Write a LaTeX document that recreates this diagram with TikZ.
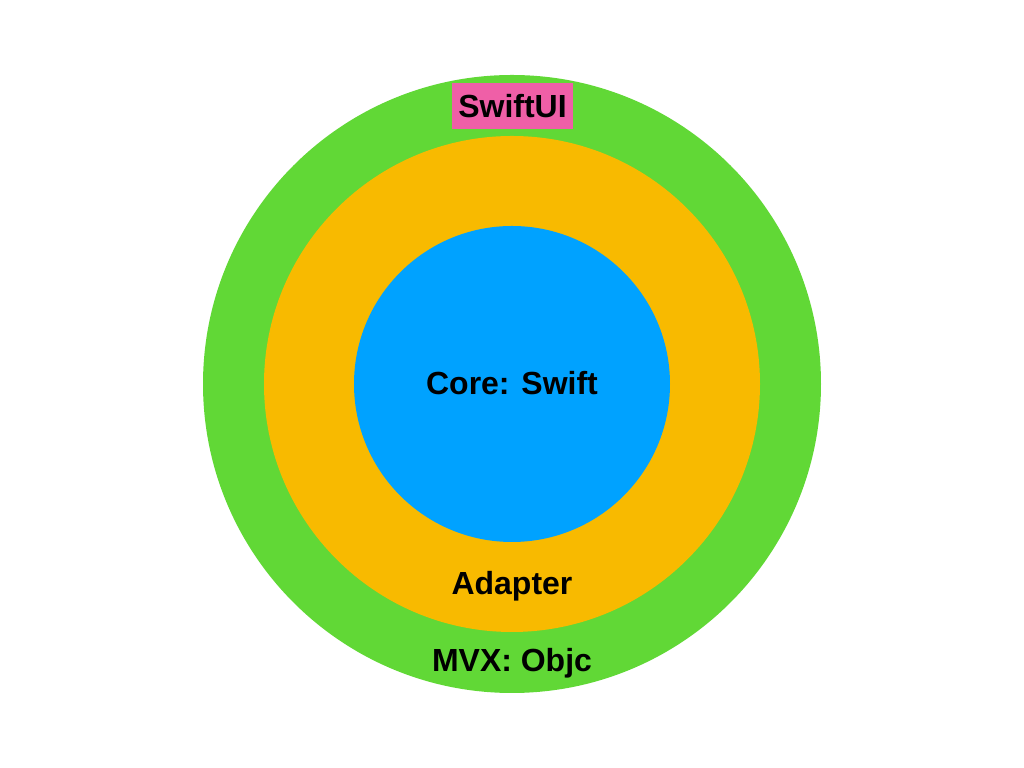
\documentclass[tikz,border=0pt]{standalone}
\usepackage{fontspec}
\setmainfont{Liberation Sans}
\usetikzlibrary{positioning}

\definecolor{ringgreen}{HTML}{61D836}
\definecolor{ringorange}{HTML}{F8BA00}
\definecolor{ringblue}{HTML}{00A2FF}
\definecolor{tagpink}{HTML}{EF5FA7}

\begin{document}
\begin{tikzpicture}[
  font=\bfseries\fontsize{9.1}{11}\selectfont,
  ring/.style={circle, draw=none, inner sep=0pt},
  lab/.style={anchor=base, inner sep=0pt},
  tag/.style={fill=tagpink, inner sep=0pt, minimum width=1.21cm, minimum height=0.46cm, text depth=0pt}
]
\path[use as bounding box] (0,0) rectangle (10.24,7.68);

\node[ring, fill=ringgreen, minimum size=6.18cm] (mvx) at (5.12,3.84) {};
\node[ring, fill=ringorange, minimum size=4.96cm] (adapter) at (mvx.center) {};
\node[ring, fill=ringblue, minimum size=3.16cm] (core) at (mvx.center) {};

\node[lab] (corelab) at (5.12,3.73) {Core: Swift};
\node[lab] (adapterlab) at (5.12,1.73) {Adapter};
\node[lab] (mvxlab) at (5.12,0.96) {MVX: Objc};
\node[tag] (swiftui) at (5.125,6.62) {SwiftUI};
\end{tikzpicture}
\end{document}
